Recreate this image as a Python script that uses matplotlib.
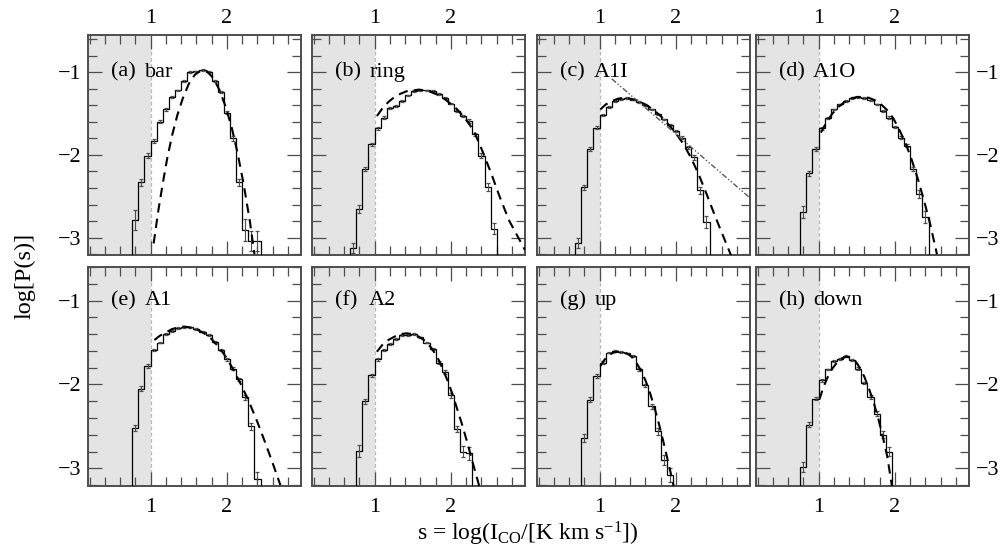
import numpy as np
import matplotlib.pyplot as plt
from matplotlib.ticker import MultipleLocator

plt.rcParams['font.family'] = ['Liberation Serif', 'DejaVu Serif']
plt.rcParams['mathtext.fontset'] = 'custom'
plt.rcParams['mathtext.rm'] = 'Liberation Serif'
plt.rcParams['mathtext.it'] = 'Liberation Serif:italic'
plt.rcParams['axes.unicode_minus'] = True

# histogram bins (width in dex)
bin_width = 0.08

# panel names
labels = ['(a)', '(b)', '(c)', '(d)', '(e)', '(f)', '(g)', '(h)']
names = ['bar', 'ring', 'A1I', 'A1O', 'A1', 'A2', 'up', 'down']

# first bin edge of each histogram
bin_start = [0.76, 0.68, 0.68, 0.76, 0.76, 0.76, 0.76, 0.76]

# log P(s) for each bin
hist_a = [-2.79, -2.33, -2.01, -1.83, -1.60, -1.45, -1.30, -1.22, -1.11, -1.00, -0.99,
          -0.97, -1.00, -1.11, -1.24, -1.49, -1.80, -2.33, -2.91, -3.04, -3.04]
hist_b = [-3.12, -2.65, -2.17, -1.87, -1.68, -1.55, -1.43, -1.41, -1.35, -1.28, -1.23, -1.22,
          -1.22, -1.23, -1.26, -1.31, -1.38, -1.47, -1.53, -1.59, -1.75, -2.01, -2.39, -2.89]
hist_c = [-3.07, -2.39, -1.93, -1.67, -1.52, -1.42, -1.35, -1.32, -1.31, -1.33, -1.36,
          -1.40, -1.45, -1.51, -1.57, -1.64, -1.71, -1.79, -1.91, -2.03, -2.43, -2.81]
hist_d = [-2.69, -2.22, -1.93, -1.68, -1.55, -1.45, -1.39, -1.35, -1.31, -1.30, -1.31,
          -1.34, -1.39, -1.47, -1.55, -1.66, -1.79, -1.89, -2.17, -2.47, -2.75]
hist_e = [-2.52, -2.05, -1.78, -1.59, -1.50, -1.40, -1.36, -1.33, -1.32, -1.32, -1.34,
          -1.37, -1.41, -1.49, -1.59, -1.70, -1.81, -1.94, -2.15, -2.50, -3.13]
hist_f = [-2.79, -2.20, -1.89, -1.70, -1.59, -1.52, -1.46, -1.41, -1.41, -1.40, -1.44,
          -1.50, -1.58, -1.74, -1.85, -2.13, -2.53, -2.80, -2.82]
hist_g = [-2.64, -2.18, -1.90, -1.74, -1.62, -1.60, -1.61, -1.63, -1.66, -1.82, -2.01,
          -2.26, -2.56, -2.90, -3.08]
hist_h = [-2.98, -2.48, -2.17, -1.95, -1.82, -1.72, -1.70, -1.66, -1.71, -1.81, -1.98,
          -2.15, -2.35, -2.60, -2.80]

# error bars (dex)
err_a = [0.12, 0.04, 0.03, 0.02, 0.02, 0.015, 0.01, 0.01, 0.01, 0.01, 0.01, 0.01, 0.01,
         0.01, 0.015, 0.02, 0.03, 0.04, 0.13, 0.12, 0.12]
err_b = [0.06, 0.05, 0.03, 0.02, 0.02, 0.015, 0.01, 0.01, 0.01, 0.01, 0.01, 0.01, 0.01,
         0.01, 0.01, 0.01, 0.01, 0.015, 0.015, 0.02, 0.02, 0.03, 0.05, 0.07]
err_c = [0.06, 0.03, 0.02, 0.015, 0.01, 0.01, 0.01, 0.01, 0.01, 0.01, 0.01, 0.01, 0.01,
         0.01, 0.01, 0.015, 0.015, 0.02, 0.02, 0.03, 0.04, 0.07]
err_d = [0.07, 0.03, 0.02, 0.015, 0.01, 0.01, 0.01, 0.01, 0.01, 0.01, 0.01, 0.01, 0.01,
         0.01, 0.015, 0.015, 0.02, 0.02, 0.03, 0.05, 0.07]
err_e = [0.04, 0.03, 0.02, 0.015, 0.01, 0.01, 0.01, 0.01, 0.01, 0.01, 0.01, 0.01, 0.01,
         0.01, 0.01, 0.015, 0.015, 0.02, 0.03, 0.04, 0.09]
err_f = [0.07, 0.03, 0.02, 0.015, 0.01, 0.01, 0.01, 0.01, 0.01, 0.01, 0.01, 0.01, 0.015,
         0.015, 0.02, 0.03, 0.04, 0.07, 0.08]
err_g = [0.05, 0.03, 0.02, 0.015, 0.01, 0.01, 0.01, 0.01, 0.01, 0.015, 0.02, 0.03, 0.04,
         0.06, 0.08]
err_h = [0.06, 0.03, 0.02, 0.015, 0.01, 0.01, 0.01, 0.01, 0.01, 0.015, 0.015, 0.02, 0.03,
         0.04, 0.05]

# lognormal fits (dashed)
fit_x_a = [1.04, 1.10, 1.16, 1.22, 1.28, 1.35, 1.42, 1.50, 1.58, 1.66, 1.74, 1.82, 1.90,
           1.98, 2.06, 2.14, 2.22, 2.30, 2.36]
fit_y_a = [-3.07, -2.68, -2.34, -2.03, -1.77, -1.52, -1.32, -1.14, -1.03, -0.98, -0.99,
           -1.07, -1.21, -1.41, -1.66, -1.98, -2.36, -2.80, -3.20]
fit_x_b = [1.03, 1.10, 1.18, 1.26, 1.34, 1.42, 1.50, 1.58, 1.66, 1.74, 1.82, 1.90, 1.98,
           2.06, 2.14, 2.22, 2.30, 2.42, 2.53, 2.64, 2.76, 2.90, 2.97]
fit_y_b = [-1.53, -1.44, -1.36, -1.30, -1.26, -1.23, -1.22, -1.21, -1.22, -1.24, -1.27,
           -1.31, -1.37, -1.43, -1.51, -1.60, -1.71, -1.97, -2.23, -2.51, -2.79, -3.03, -3.15]
fit_x_c = [1.01, 1.08, 1.16, 1.24, 1.32, 1.40, 1.50, 1.60, 1.70, 1.80, 1.90, 2.00, 2.10,
           2.20, 2.30, 2.40, 2.50, 2.60, 2.72]
fit_y_c = [-1.45, -1.39, -1.35, -1.32, -1.31, -1.32, -1.34, -1.39, -1.45, -1.53, -1.63,
           -1.74, -1.87, -2.04, -2.24, -2.47, -2.71, -2.94, -3.21]
fit_x_d = [1.03, 1.10, 1.18, 1.26, 1.34, 1.42, 1.50, 1.58, 1.66, 1.74, 1.82, 1.90, 1.98,
           2.06, 2.14, 2.22, 2.30, 2.38, 2.46, 2.55]
fit_y_d = [-1.73, -1.61, -1.50, -1.42, -1.36, -1.32, -1.30, -1.30, -1.31, -1.34, -1.39,
           -1.46, -1.56, -1.70, -1.86, -2.06, -2.29, -2.55, -2.83, -3.20]
fit_x_e = [1.05, 1.12, 1.20, 1.28, 1.36, 1.44, 1.52, 1.60, 1.70, 1.80, 1.90, 2.00, 2.10,
           2.20, 2.30, 2.40, 2.50, 2.60, 2.70]
fit_y_e = [-1.47, -1.42, -1.38, -1.34, -1.32, -1.31, -1.32, -1.34, -1.39, -1.46, -1.56,
           -1.69, -1.85, -2.03, -2.23, -2.45, -2.69, -2.94, -3.20]
fit_x_f = [1.03, 1.10, 1.18, 1.26, 1.34, 1.42, 1.50, 1.58, 1.66, 1.74, 1.82, 1.90, 1.98,
           2.06, 2.14, 2.22, 2.30, 2.37]
fit_y_f = [-1.61, -1.53, -1.47, -1.43, -1.40, -1.39, -1.40, -1.43, -1.48, -1.56, -1.67,
           -1.83, -2.01, -2.23, -2.46, -2.71, -2.98, -3.21]
fit_x_g = [1.01, 1.06, 1.12, 1.18, 1.24, 1.30, 1.36, 1.42, 1.48, 1.54, 1.60, 1.66, 1.72,
           1.78, 1.84, 1.90, 1.97]
fit_y_g = [-1.78, -1.71, -1.65, -1.62, -1.61, -1.61, -1.63, -1.67, -1.74, -1.83, -1.95,
           -2.10, -2.28, -2.48, -2.70, -2.93, -3.21]
fit_x_h = [1.01, 1.06, 1.12, 1.18, 1.24, 1.30, 1.36, 1.42, 1.48, 1.54, 1.60, 1.66, 1.72,
           1.78, 1.84, 1.90, 1.96]
fit_y_h = [-2.18, -2.04, -1.91, -1.81, -1.74, -1.69, -1.67, -1.68, -1.72, -1.80, -1.91,
           -2.05, -2.21, -2.40, -2.62, -2.86, -3.21]

# power-law tail in panel (c)
pl_x_c = [1.16, 2.97]
pl_y_c = [-1.08, -2.52]

hists = [hist_a, hist_b, hist_c, hist_d, hist_e, hist_f, hist_g, hist_h]
errs = [err_a, err_b, err_c, err_d, err_e, err_f, err_g, err_h]
fits_x = [fit_x_a, fit_x_b, fit_x_c, fit_x_d, fit_x_e, fit_x_f, fit_x_g, fit_x_h]
fits_y = [fit_y_a, fit_y_b, fit_y_c, fit_y_d, fit_y_e, fit_y_f, fit_y_g, fit_y_h]

fig = plt.figure(figsize=(10.03, 5.52), dpi=100)
W, H = 1003.0, 552.0
col_left = [88, 312, 537, 756]
col_w = 213
rows = [(35, 255), (267, 486)]
ylims = [(-3.21, -0.55), (-3.21, -0.60)]
frame_col = '0.3'

for i in range(8):
    r, c = i // 4, i % 4
    top, bot = rows[r]
    ax = fig.add_axes([col_left[c] / W, 1 - bot / H, col_w / W, (bot - top) / H])
    ax.set_xlim(0.18, 2.97)
    ax.set_ylim(*ylims[r])

    # grey band below the completeness limit
    ax.axvspan(0.0, 1.0, color='#e4e4e4', lw=0, zorder=0)
    ax.axvline(1.0, color='0.72', lw=0.9, ls=(0, (3, 2)), zorder=1)

    vals = hists[i]
    edges = bin_start[i] + bin_width * np.arange(len(vals) + 1)
    centers = edges[:-1] + bin_width / 2
    ax.stairs(vals, edges, baseline=-5, color='k', lw=0.9, zorder=3)
    ax.errorbar(centers, vals, yerr=errs[i], fmt='none', ecolor='0.3',
                elinewidth=0.8, capsize=1.6, capthick=0.9, zorder=4)

    ax.plot(fits_x[i], fits_y[i], color='k', lw=1.5, dashes=(4.5, 3), zorder=5)
    if i == 2:
        ax.plot(pl_x_c, pl_y_c, color='0.35', lw=1.0,
                dashes=(4, 1.5, 1, 1.5, 1, 1.5), zorder=5)

    # panel label
    ax.text(0.11, -1.0, labels[i], transform=ax.get_yaxis_transform(),
            fontsize=16, va='center', ha='left')
    ax.text(0.93, -1.0, names[i], fontsize=16, va='center', ha='left')

    ax.xaxis.set_major_locator(MultipleLocator(1))
    ax.xaxis.set_minor_locator(MultipleLocator(0.2))
    ax.yaxis.set_major_locator(MultipleLocator(1))
    ax.yaxis.set_minor_locator(MultipleLocator(0.2))
    ax.tick_params(which='both', direction='in', top=True, right=True,
                   color=frame_col, width=0.9, labelsize=16,
                   labelbottom=(r == 1), labeltop=(r == 0),
                   labelleft=(c == 0), labelright=(c == 3))
    ax.tick_params(which='major', length=10)
    ax.tick_params(which='minor', length=6.5)
    # bottom row labels sit a bit lower than the top row ones
    ax.tick_params(axis='x', which='major', pad=(5 if r == 0 else 9))
    ax.tick_params(axis='y', which='major', pad=5)
    for sp in ax.spines.values():
        sp.set_color(frame_col)
        sp.set_linewidth(1.4)

fig.text(0.526, 0.008, r's = log(I$_{\mathrm{CO}}$/[K km s$^{-1}$])', fontsize=17,
         ha='center', va='bottom')
fig.text(0.025, 0.50, 'log[P(s)]', fontsize=17.5, rotation=90, ha='center', va='center')

fig.savefig('out.png', dpi=100)
